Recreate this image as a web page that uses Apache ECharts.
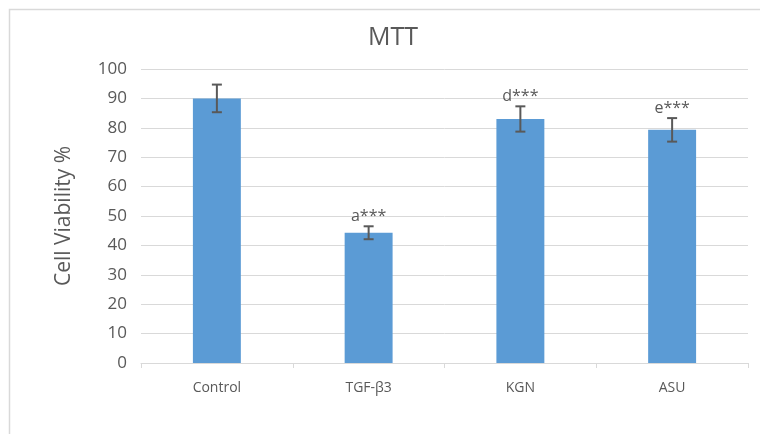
<!DOCTYPE html>
<html>
<head>
<meta charset="utf-8">
<script src="https://cdn.jsdelivr.net/npm/echarts@6/dist/echarts.min.js"></script>
<style>html,body{margin:0;padding:0;background:#fff}#c{width:760px;height:434px}</style>
</head>
<body>
<div id="c"></div>
<script>
var categories = ['Control', 'TGF-β3', 'KGN', 'ASU'];
var values = [90, 44.3, 83, 79.3];
var errors = [4.7, 2.2, 4.3, 4.0];
var annotations = ['', 'a***', 'd***', 'e***'];
var yTicks = [0, 10, 20, 30, 40, 50, 60, 70, 80, 90, 100];

var FONT = '"Open Sans", "Noto Sans", sans-serif';
var TXT = '#595959';
var chart = echarts.init(document.getElementById('c'), null, {renderer: 'canvas'});
chart.setOption({
  animation: false,
  backgroundColor: '#fff',
  title: {
    text: 'MTT', left: 388, top: 20, textAlign: 'center',
    textStyle: {fontFamily: FONT, fontSize: 25, fontWeight: 'normal', color: TXT}
  },
  graphic: [{
    type: 'rect', shape: {x: 9.5, y: 9.5, width: 800, height: 500},
    style: {fill: 'none', stroke: '#d9d9d9', lineWidth: 1.5}, silent: true, z: -1
  }],
  grid: {left: 141, right: 12, top: 69, bottom: 71, containLabel: false},
  xAxis: {
    type: 'category', data: categories,
    axisLine: {lineStyle: {color: '#d9d9d9', width: 1}},
    axisTick: {show: true, length: 5, lineStyle: {color: '#d9d9d9'}},
    axisLabel: {fontFamily: FONT, fontSize: 14, color: TXT, margin: 18}
  },
  yAxis: {
    type: 'value', min: 0, max: 100, interval: 10,
    name: 'Cell Viability %', nameLocation: 'middle', nameGap: 66,
    nameTextStyle: {fontFamily: FONT, fontSize: 21, color: TXT},
    axisLine: {show: false}, axisTick: {show: false},
    axisLabel: {fontFamily: FONT, fontSize: 17, color: TXT, margin: 14,
      formatter: function (v) { return yTicks.indexOf(v) >= 0 ? String(v) : ''; }},
    splitLine: {lineStyle: {color: '#d9d9d9', width: 1}}
  },
  series: [{
    type: 'bar', data: values, barWidth: '31.6%',
    itemStyle: {color: '#5b9bd5'}
  }, {
    type: 'custom',
    data: values.map(function (v, i) { return [i, v, errors[i]]; }),
    renderItem: function (params, api) {
      var i = api.value(0), v = api.value(1), e = api.value(2);
      var top = api.coord([i, v + e]);
      var bot = api.coord([i, v - e]);
      var x = top[0], hw = 5;
      var children = [
        {type: 'line', shape: {x1: x, y1: top[1], x2: x, y2: bot[1]}, style: {stroke: TXT, lineWidth: 2}},
        {type: 'line', shape: {x1: x - hw, y1: top[1], x2: x + hw, y2: top[1]}, style: {stroke: TXT, lineWidth: 2}},
        {type: 'line', shape: {x1: x - hw, y1: bot[1], x2: x + hw, y2: bot[1]}, style: {stroke: TXT, lineWidth: 2}}
      ];
      var t = annotations[params.dataIndex];
      if (t) {
        children.push({type: 'text', style: {text: t, x: x, y: top[1] - 2, align: 'center', verticalAlign: 'bottom',
          fill: TXT, font: '16px ' + FONT}});
      }
      return {type: 'group', children: children};
    },
    z: 10
  }]
});
</script>
</body>
</html>
